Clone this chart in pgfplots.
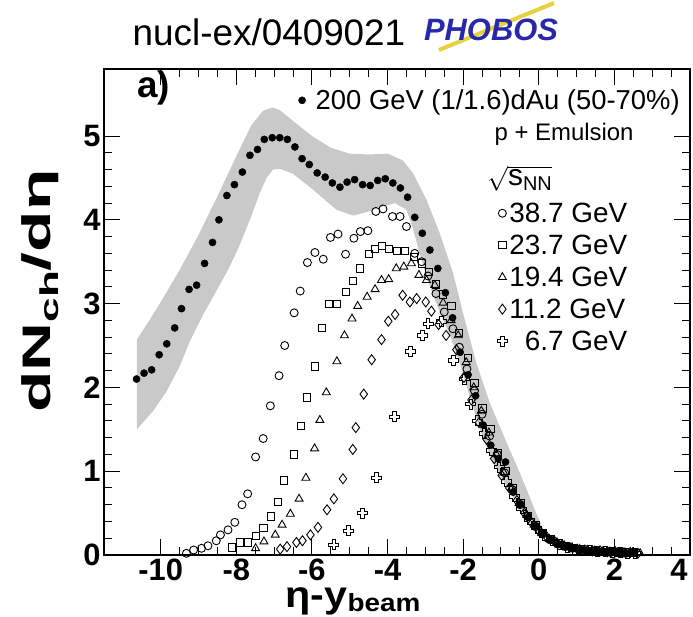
\documentclass[border=0pt]{standalone}
\usepackage{fontspec}
\setmainfont{Liberation Sans}
\usepackage{pgfplots}
\pgfplotsset{compat=1.18}
\usetikzlibrary{plotmarks}
\newcommand{\fs}[1]{\fontsize{#1}{#1}\selectfont}
\definecolor{phobosblue}{RGB}{40,40,170}
\definecolor{phobosyellow}{RGB}{230,210,60}
\pgfdeclareplotmark{ocross}{%
  \pgfpathmoveto{\pgfqpoint{0.35\pgfplotmarksize}{\pgfplotmarksize}}%
  \pgfpathlineto{\pgfqpoint{0.35\pgfplotmarksize}{0.35\pgfplotmarksize}}%
  \pgfpathlineto{\pgfqpoint{\pgfplotmarksize}{0.35\pgfplotmarksize}}%
  \pgfpathlineto{\pgfqpoint{\pgfplotmarksize}{-0.35\pgfplotmarksize}}%
  \pgfpathlineto{\pgfqpoint{0.35\pgfplotmarksize}{-0.35\pgfplotmarksize}}%
  \pgfpathlineto{\pgfqpoint{0.35\pgfplotmarksize}{-\pgfplotmarksize}}%
  \pgfpathlineto{\pgfqpoint{-0.35\pgfplotmarksize}{-\pgfplotmarksize}}%
  \pgfpathlineto{\pgfqpoint{-0.35\pgfplotmarksize}{-0.35\pgfplotmarksize}}%
  \pgfpathlineto{\pgfqpoint{-\pgfplotmarksize}{-0.35\pgfplotmarksize}}%
  \pgfpathlineto{\pgfqpoint{-\pgfplotmarksize}{0.35\pgfplotmarksize}}%
  \pgfpathlineto{\pgfqpoint{-0.35\pgfplotmarksize}{0.35\pgfplotmarksize}}%
  \pgfpathlineto{\pgfqpoint{-0.35\pgfplotmarksize}{\pgfplotmarksize}}%
  \pgfpathclose
  \pgfusepathqstroke}
\begin{document}
\begin{tikzpicture}
\begin{axis}[at={(0,0)}, anchor=south west, scale only axis,
  width=586bp, height=486bp,
  xmin=-11.5, xmax=4, ymin=0, ymax=5.8,
  xtick={-10,-8,-6,-4,-2,0,2,4}, ytick={0,1,2,3,4,5},
  xticklabels={-10,-8,-6,-4,-2,0,2,\kern-11bp 4\kern11bp},
  minor x tick num=3, minor y tick num=4,
  tick align=inside, xtick pos=both, ytick pos=both,
  major tick length=16bp, minor tick length=8bp,
  axis line style={line width=1.3pt},
  every tick/.style={black, line width=1pt},
  ticklabel style={font=\fs{31}\bfseries},
  /pgf/number format/assume math mode=true,
  xticklabel style={inner sep=1bp, yshift=-3bp},
  xlabel={\scalebox{1.12}[1]{\fs{37}\bfseries η-y\raisebox{-0.1em}{\fs{25}beam}}},
  xlabel style={at={(axis description cs:0.425,-0.109)}, anchor=base, inner sep=0pt},
  ylabel={\scalebox{1.7}[1]{\fs{40}\bfseries dN\raisebox{-0.22em}{\fs{26}ch}/dη}},
  ylabel style={at={(axis description cs:-0.109,0.543)}, anchor=center},
  legend style={at={(axis cs:-1.10,4.23)}, anchor=north west, draw=none, fill=none,
    font=\fs{28}, row sep=7bp, inner sep=0pt, nodes={inner sep=2bp}},
  legend cell align=left,
  clip mode=individual,
]
% systematic band
\addplot[fill=black!21, draw=none, forget plot] coordinates {
(-10.63,2.57) (-10.3,2.80) (-10.0,3.02) (-9.5,3.40) (-9.0,3.82) (-8.5,4.28) (-8.0,4.76)
(-7.6,5.13) (-7.3,5.30) (-7.05,5.34) (-6.85,5.31) (-6.5,5.18) (-6.0,5.0) (-5.5,4.86)
(-5.0,4.79) (-4.5,4.78) (-4.0,4.79) (-3.6,4.71) (-3.33,4.56) (-2.97,4.24) (-2.62,3.84)
(-2.27,3.37) (-2.0,2.88) (-1.65,2.29) (-1.30,1.82) (-0.85,1.34) (-0.50,0.98) (-0.15,0.59)
(0.11,0.31) (0.2,0.22)
(0.03,0.23) (-0.33,0.43) (-0.81,0.79) (-1.21,1.10) (-1.56,1.50) (-1.83,1.90) (-2.09,2.29)
(-2.35,2.62) (-2.71,3.0) (-2.97,3.32) (-3.15,3.6) (-3.33,3.9) (-3.5,4.12) (-3.8,4.2)
(-4.2,4.15) (-4.5,4.1) (-4.9,4.05) (-5.35,4.12) (-5.97,4.36) (-6.5,4.55) (-6.85,4.61)
(-7.03,4.6) (-7.2,4.5) (-7.38,4.32) (-7.6,4.05) (-7.91,3.7) (-8.2,3.42) (-8.53,3.15)
(-8.9,2.85) (-9.23,2.55) (-9.5,2.25) (-9.85,1.95) (-10.2,1.72) (-10.63,1.5)
} -- cycle;
% 200 GeV dAu
\addplot[only marks, mark=*, mark size=3.6bp, black, forget plot] coordinates {
(-10.64,2.10) (-10.44,2.17) (-10.24,2.21) (-10.04,2.39) (-9.84,2.52) (-9.63,2.71)
(-9.45,2.94) (-9.25,3.17) (-9.05,3.22) (-8.84,3.48) (-8.63,3.73) (-8.46,4.00)
(-8.25,4.29) (-8.05,4.42) (-7.84,4.57) (-7.64,4.77) (-7.44,4.84) (-7.26,4.96)
(-7.05,4.98) (-6.85,4.98) (-6.65,4.96) (-6.45,4.87) (-6.26,4.73) (-6.07,4.66)
(-5.86,4.56) (-5.65,4.51) (-5.46,4.44) (-5.26,4.39) (-5.07,4.45) (-4.87,4.48)
(-4.66,4.42) (-4.46,4.41) (-4.26,4.47) (-4.06,4.49) (-3.86,4.44) (-3.66,4.38)
(-3.47,4.27) (-3.28,4.03) (-3.08,3.84) (-2.88,3.64) (-2.67,3.42) (-2.47,3.13)
(-2.28,2.83) (-2.08,2.42) (-1.87,2.15) (-1.67,1.90) (-1.47,1.55) (-1.27,1.31)
(-1.07,1.15) (-0.88,1.11) (-0.68,0.75) (-0.48,0.61) (-0.28,0.45) (-0.08,0.35)
(0.12,0.25) (0.32,0.18) (0.52,0.13) (0.72,0.10) (0.92,0.08) (1.12,0.06)
(1.32,0.05) (1.52,0.04) (1.72,0.04) (1.92,0.03) (2.12,0.03) (2.32,0.02) (2.52,0.02)
};
% 38.7 GeV
\addplot[only marks, mark=o, mark size=4bp, black, line width=0.9pt] coordinates {
(-9.32,0.02) (-9.13,0.06) (-8.92,0.08) (-8.75,0.11) (-8.53,0.17) (-8.42,0.24)
(-8.22,0.30) (-8.04,0.39) (-7.85,0.60) (-7.70,0.73) (-7.49,1.17) (-7.29,1.39)
(-7.10,1.78) (-6.87,2.14) (-6.72,2.50) (-6.47,2.89) (-6.31,3.15) (-6.12,3.49)
(-5.92,3.61) (-5.70,3.53) (-5.51,3.79) (-5.31,3.83) (-5.11,3.59) (-4.89,3.78)
(-4.72,3.86) (-4.52,3.87) (-4.31,4.10) (-4.12,4.13) (-3.87,4.04) (-3.67,4.04)
(-3.50,3.92) (-3.28,3.60) (-3.10,3.50) (-2.93,3.33) (-2.72,3.12) (-2.50,2.90)
(-2.27,2.70) (-2.10,2.48) (-1.90,2.22) (-1.70,1.96) (-1.50,1.68) (-1.30,1.42)
(-1.10,1.20) (-0.90,0.98) (-0.70,0.78) (-0.50,0.60) (-0.30,0.46) (-0.10,0.34)
(0.10,0.25) (0.30,0.18) (0.50,0.13) (0.70,0.10) (0.90,0.08) (1.10,0.06)
(1.30,0.05) (1.50,0.04) (1.70,0.04) (1.90,0.03) (2.10,0.03) (2.30,0.02)
};
\addlegendentry{38.7 GeV}
% 23.7 GeV
\addplot[only marks, mark=square, mark size=3.6bp, black, line width=0.9pt] coordinates {
(-8.12,0.09) (-7.91,0.15) (-7.69,0.15) (-7.49,0.23) (-7.28,0.32) (-7.08,0.46)
(-6.90,0.63) (-6.74,0.89) (-6.48,1.20) (-6.30,1.54) (-6.14,1.88) (-5.93,2.25)
(-5.74,2.71) (-5.54,3.00) (-5.34,3.00) (-5.10,3.14) (-4.91,3.27) (-4.73,3.42)
(-4.50,3.59) (-4.34,3.65) (-4.15,3.69) (-3.97,3.65) (-3.75,3.63) (-3.53,3.63)
(-3.31,3.56) (-3.10,3.48) (-2.91,3.38) (-2.72,3.23) (-2.53,3.11) (-2.31,2.97)
(-2.11,2.65) (-1.88,2.35) (-1.70,2.05) (-1.49,1.75) (-1.28,1.50) (-1.08,1.22)
(-0.88,1.00) (-0.68,0.80) (-0.48,0.62) (-0.28,0.47) (-0.08,0.36) (0.12,0.26)
(0.32,0.19) (0.52,0.14) (0.72,0.11) (0.92,0.08) (1.12,0.07) (1.32,0.05)
(1.52,0.05) (1.72,0.04) (1.92,0.04) (2.12,0.03) (2.32,0.03) (2.52,0.02)
};
\addlegendentry{23.7 GeV}
% 19.4 GeV
\addplot[only marks, mark=triangle, mark size=4.6bp, black, line width=0.9pt] coordinates {
(-7.49,0.08) (-7.27,0.16) (-6.97,0.24) (-6.79,0.36) (-6.57,0.49) (-6.34,0.67)
(-6.16,0.92) (-5.93,1.27) (-5.79,1.61) (-5.62,1.94) (-5.34,2.31) (-5.14,2.62)
(-4.94,2.82) (-4.79,2.97) (-4.54,3.08) (-4.33,3.17) (-4.16,3.28) (-3.97,3.29)
(-3.77,3.42) (-3.57,3.44) (-3.37,3.48) (-3.17,3.34) (-2.97,3.28) (-2.75,3.22)
(-2.53,3.01) (-2.32,2.80) (-2.13,2.62) (-1.92,2.30) (-1.72,2.00) (-1.52,1.72)
(-1.32,1.46) (-1.12,1.20) (-0.92,0.98) (-0.72,0.80) (-0.52,0.62) (-0.32,0.48)
(-0.12,0.36) (0.08,0.26) (0.28,0.19) (0.48,0.15) (0.68,0.11) (0.88,0.09)
(1.08,0.07) (1.28,0.06) (1.48,0.05) (1.68,0.04) (1.88,0.04) (2.08,0.03)
(2.28,0.03) (2.48,0.03) (2.68,0.02)
};
\addlegendentry{19.4 GeV}
% 11.2 GeV
\addplot[only marks, mark=diamond, mark size=5bp, black, line width=0.9pt] coordinates {
(-6.84,0.07) (-6.66,0.10) (-6.41,0.15) (-6.25,0.17) (-6.04,0.24) (-5.84,0.33)
(-5.60,0.54) (-5.42,0.67) (-5.18,0.91) (-4.92,1.26) (-4.84,1.52) (-4.63,1.92)
(-4.42,2.33) (-4.16,2.57) (-3.98,2.79) (-3.80,2.87) (-3.60,3.10) (-3.41,3.02)
(-3.23,3.06) (-2.99,3.02) (-2.84,2.91) (-2.65,2.75) (-2.45,2.62) (-2.18,2.45)
(-1.98,2.12) (-1.78,1.85) (-1.58,1.58) (-1.38,1.38) (-1.18,1.15) (-0.98,0.95)
(-0.78,0.80) (-0.58,0.65) (-0.38,0.50) (-0.18,0.38) (0.02,0.28) (0.22,0.21)
(0.42,0.16) (0.62,0.12) (0.82,0.09) (1.02,0.07) (1.22,0.06) (1.42,0.05)
(1.62,0.05) (1.82,0.04) (2.02,0.04) (2.22,0.03) (2.42,0.03) (2.62,0.02)
};
\addlegendentry{11.2 GeV}
% 6.7 GeV
\addplot[only marks, mark=ocross, mark size=5bp, black, line width=0.9pt] coordinates {
(-5.42,0.12) (-5.03,0.29) (-4.66,0.50) (-4.29,0.92) (-3.82,1.65) (-3.39,2.43)
(-3.08,2.62) (-2.93,2.76) (-2.58,2.79) (-2.26,2.32) (-1.97,2.10) (-1.80,1.80)
(-1.62,1.60) (-1.45,1.45) (-1.25,1.25) (-1.05,1.05) (-0.85,0.88) (-0.65,0.70)
(-0.45,0.55) (-0.25,0.42) (-0.05,0.32) (0.15,0.23) (0.35,0.17) (0.55,0.12)
(0.75,0.09) (0.95,0.07) (1.15,0.06) (1.35,0.05) (1.55,0.04) (1.75,0.04)
(1.95,0.03) (2.15,0.03) (2.35,0.02) (2.55,0.02)
};
\addlegendentry{\hphantom{3}6.7 GeV}
\node[font=\fs{37}\bfseries] at (axis cs:-10.19,5.57) {a)};
\node[font=\fs{24}, inner sep=0pt] at (axis cs:0.67,5.02) {p + Emulsion};
\node[font=\fs{28}, inner sep=0pt] at (axis cs:-0.5,4.49) {$\sqrt{\mbox{\fs{30}s}_{\mbox{\fs{20}NN}}}$};
\end{axis}
\begin{axis}[at={(0,0)}, anchor=south west, scale only axis,
  width=586bp, height=486bp,
  xmin=-11.5, xmax=4, ymin=0, ymax=5.8, hide axis,
  legend style={at={(axis cs:-6.36,5.58)}, anchor=north west, draw=none, fill=none,
    font=\fs{27.5}, inner sep=0pt, nodes={inner sep=2bp}},
]
\addplot[draw=none, forget plot] coordinates {(0,0)};
\addlegendimage{only marks, mark=*, mark size=3.6bp, black}
\addlegendentry{\hspace*{8bp}200 GeV (1/1.6)dAu (50-70\%)}
\end{axis}
\node[font=\fs{37}] at (165bp,523bp) {nucl-ex/0409021};
\draw[phobosyellow, line width=4bp] (335bp,505bp) -- (450bp,552bp);
\node[font=\fs{31}\bfseries\itshape, text=phobosblue] at (387bp,525bp) {PHOBOS};
\pgfresetboundingbox
\useasboundingbox (-104bp,-62bp) rectangle (589bp,555bp);
\end{tikzpicture}
\end{document}
